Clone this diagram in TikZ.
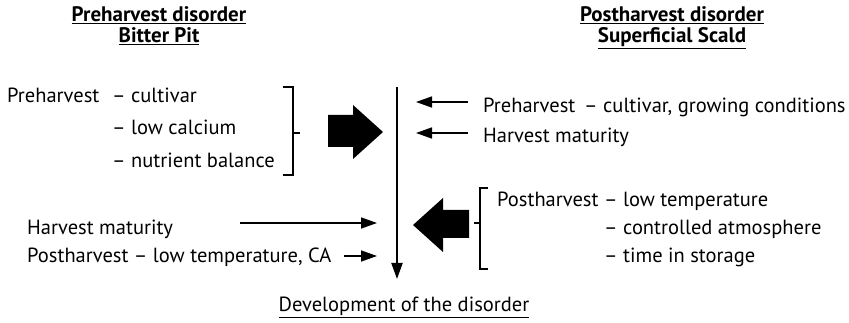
\documentclass[tikz,border=0pt]{standalone}
\usepackage{fontspec}
\setmainfont{PT Sans}
\usetikzlibrary{arrows.meta}

\begin{document}
\begin{tikzpicture}[x=1pt,y=-1pt,
    every node/.style={inner sep=0pt,font=\fontsize{20.5}{22}\selectfont},
    txt/.style={anchor=base west},
    head/.style={anchor=base,align=center,font=\fontsize{21}{21}\selectfont\bfseries},
    flow/.style={-{Triangle[length=16pt,width=11pt]},line width=1.6pt},
    brack/.style={line width=1.6pt}]
  \useasboundingbox (0,0) rectangle (849,323);

  % headings
  \draw (159,22) node[head] (bitterpit) {\underline{Preharvest disorder}};
  \draw (159,43) node[head] (bitterpit2) {\underline{Bitter Pit}};
  \draw (672,22) node[head] (scald) {\underline{Postharvest disorder}};
  \draw (672,43) node[head] (scald2) {\underline{Superficial Scald}};

  % left side
  \draw (7,103) node[txt] (preL) {Preharvest};
  \draw (112,103) node[txt] (cultL) {-- cultivar};
  \draw (112,135) node[txt] (calcL) {-- low calcium};
  \draw (112,168) node[txt] (nutrL) {-- nutrient balance};
  \draw (27,235) node[txt] (harvL) {Harvest maturity};
  \draw (27,263) node[txt] (postL) {Postharvest -- low temperature, CA};

  % right side
  \draw (483,113) node[txt] (preR) {Preharvest\ \,-- cultivar, growing conditions};
  \draw (483,143) node[txt] (harvR) {Harvest maturity};
  \draw (497,207) node[txt] (postR) {Postharvest};
  \draw (604,207) node[txt] (tempR) {-- low temperature};
  \draw (604,235) node[txt] (caR) {-- controlled atmosphere};
  \draw (604,263) node[txt] (timeR) {-- time in storage};

  \draw (404,312) node[anchor=base] (develop) {\underline{Development of the disorder}};

  % main stem
  \coordinate (stem) at (397,87);
  \coordinate (stemend) at (397,279);
  \draw[flow,line width=2pt] (stem) -- (stemend);

  \coordinate (in1) at (416,102);
  \coordinate (in2) at (416,133);
  \coordinate (in3) at (377,223);
  \coordinate (in4) at (377,256);
  \draw[flow] (preR.west |- in1) ++(-15,0) -- (in1);
  \draw[flow] (harvR.west |- in2) ++(-15,0) -- (in2);
  \draw[flow] (240,223) -- (in3);
  \draw[flow] (postL.east |- in4) ++(13,0) -- (in4);

  % brackets
  \draw[brack] (283,87) -- (293,87) -- (293,175) -- (283,175);
  \draw[brack] (293,133) -- (300,133);
  \draw[brack] (488,188) -- (480,188) -- (480,269) -- (488,269);
  \draw[brack] (480,223) -- (474,223);

  % block arrows
  \fill (328,115) -- (353,115) -- (353,105) -- (383,132) -- (353,159)
    -- (353,147) -- (328,147) -- cycle;
  \fill (469,210) -- (443,210) -- (443,198) -- (413,225) -- (443,252)
    -- (443,238) -- (469,238) -- cycle;
\end{tikzpicture}
\end{document}
